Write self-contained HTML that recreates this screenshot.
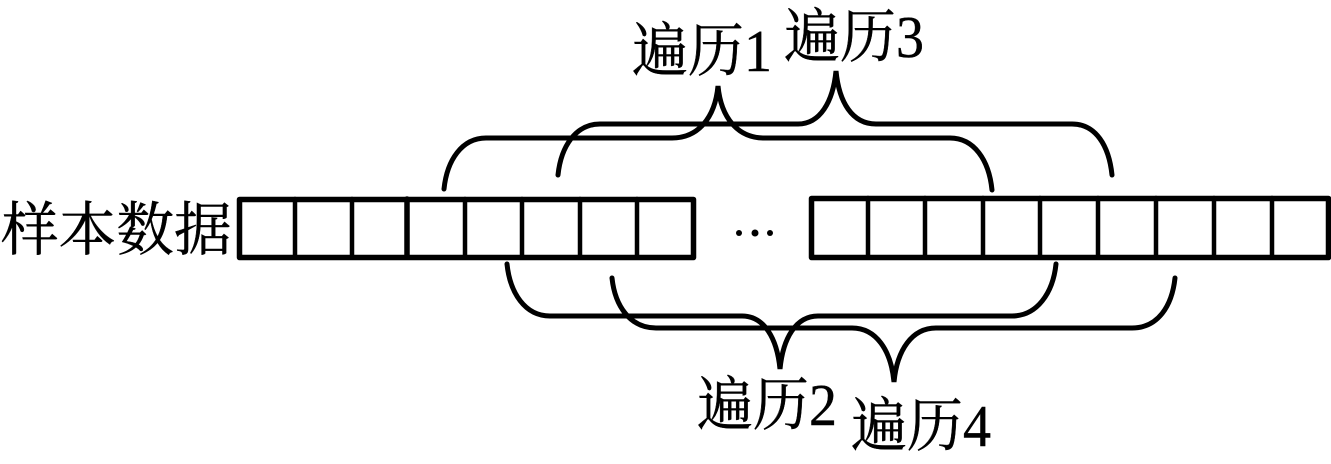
<!DOCTYPE html>
<html>
<head>
<meta charset="utf-8">
<style>
html,body{margin:0;padding:0;background:#fff;}
body{width:1331px;height:464px;overflow:hidden;position:relative;}
svg{position:absolute;left:0;top:0;}
text{font-family:"Liberation Serif","Noto Serif CJK SC",serif;font-size:56px;fill:#000;stroke:#000;stroke-width:0.4px;}
</style>
</head>
<body>
<svg width="1331" height="464" viewBox="0 0 1331 464" xmlns="http://www.w3.org/2000/svg">
  <g fill="none" stroke="#000" stroke-width="4.500" stroke-linecap="round">
    <!-- left bar -->
    <rect x="239.500" y="199.500" width="454" height="58" stroke-width="5.500" stroke-linejoin="round"/>
    <path d="M295 199V257M352 199V257M522 199V257M580 199V257M637 199V257M465 199V257"/>
    <path d="M407 199V257" stroke-width="5.500"/>
    <!-- right bar -->
    <rect x="811.500" y="198.500" width="517" height="59" stroke-width="5.500" stroke-linejoin="round"/>
    <path d="M868 198V257M925 198V257M983 198V257M1040 198V257M1098 198V257M1156 198V257M1214 198V257M1272 198V257"/>
    <!-- brace 1 -->
    <path d="M444 189C447 160 462 138 486 138H672C698 138 715 118 718 86C721 118 738 138 764 138H950C974 138 989 160 992 190" stroke-width="5"/>
    <!-- brace 3 -->
    <path d="M558 175C561 146 576 124 600 124H798C820 124 833 102 836 71C839 102 852 124 876 124H1072C1096 124 1109 146 1112 175" stroke-width="5"/>
    <!-- brace 2 -->
    <path d="M507 264C510 293 525 316 550 316H742C764 316 777 338 780 369C783 338 796 316 818 316H1012C1037 316 1053 293 1056 264" stroke-width="5"/>
    <!-- brace 4 -->
    <path d="M612 278C615 306 630 328 656 328H852C876 328 891 350 894 382C897 350 912 328 936 328H1132C1158 328 1172 306 1175 278" stroke-width="5"/>
  </g>
  <g fill="#000">
    <circle cx="739" cy="233" r="3"/>
    <circle cx="755" cy="233" r="3.500"/>
    <circle cx="770" cy="233" r="3"/>
  </g>
  <text transform="translate(1,250) scale(1.030,1.040)">样本数据</text>
  <text transform="translate(632,71) scale(1,1.060)">遍历1</text>
  <text transform="translate(784,57) scale(1,1.060)">遍历3</text>
  <text transform="translate(697,425) scale(1,1.060)">遍历2</text>
  <text transform="translate(851,446) scale(1,1.060)">遍历4</text>
</svg>
</body>
</html>
